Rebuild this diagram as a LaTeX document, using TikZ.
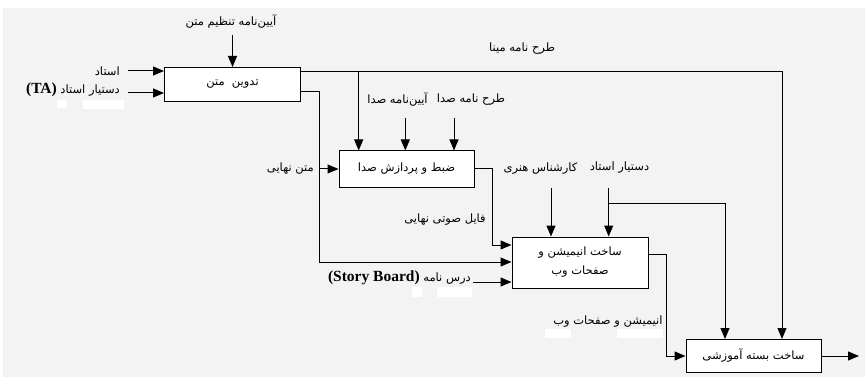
\documentclass[tikz,border=0pt]{standalone}
\usepackage{fontspec}
\usetikzlibrary{arrows.meta}
\TeXXeTstate=1
\newfontfamily\fa[Script=Arabic]{DejaVu Sans}
\newfontfamily\la{Liberation Serif}
\newcommand\pers[1]{{\fa\beginR#1\endR}}
\definecolor{bggray}{HTML}{F3F3F3}
\tikzset{
  procbox/.style={draw=black, line width=1pt, fill=white, minimum width=#1, inner sep=0pt, font=\fontsize{11.5}{13}\selectfont\fa, align=center},
  lbl/.style={inner sep=0pt, font=\fontsize{11.5}{13}\selectfont},
  arr/.style={line width=1pt, -{Triangle[length=11pt,width=9pt]}},
  patch/.style={fill=white, draw=none}
}
\newcommand\lat[1]{\beginL{\la\bfseries\fontsize{15.5}{18}\selectfont#1}\endL}
\begin{document}
\begin{tikzpicture}[x=1pt,y=-1pt]
\useasboundingbox (0,0) rectangle (865,377);
\fill[white] (0,0) rectangle (865,377);
\fill[bggray] (3,8) rectangle (865,377);
% white patches
\fill[patch] (57,100) rectangle (67,108);
\fill[patch] (83,100) rectangle (124,109);
\fill[patch] (412,287) rectangle (422,297);
\fill[patch] (437,287) rectangle (472,297);
\fill[patch] (545,329) rectangle (571,338);
\fill[patch] (617,329) rectangle (663,338);

% boxes
\node[procbox=136pt, minimum height=34pt] (b1) at (232.5,84.5) {\beginR تدوین\ \ متن\endR};
\node[procbox=135pt, minimum height=36pt] (b2) at (406.5,169) {\beginR ضبط و پردازش صدا\endR};
\node[procbox=136pt, minimum height=51pt] (b3) at (580,262.5) {\beginR ساخت انیمیشن و\endR\\[6pt]\beginR صفحات وب\endR};
\node[procbox=135pt, minimum height=33pt] (b4) at (753.5,356) {\beginR ساخت بسته آموزشی\endR};

% labels
\node[lbl] (lT) at (231,22) {\pers{آیین‌نامه تنظیم متن}};
\node[lbl, anchor=east] (lO) at (120,71) {\pers{استاد}};
\node[lbl, anchor=east] (lTA) at (120,90) {\pers{دستیار استاد \lat{(TA)}}};
\node[lbl] (lM) at (522,49) {\pers{طرح نامه مینا}};
\node[lbl] (lAS) at (397.5,100) {\pers{آیین‌نامه صدا}};
\node[lbl] (lTS) at (471,100) {\pers{طرح نامه صدا}};
\node[lbl, anchor=east] (lMN) at (314,169) {\pers{متن نهایی}};
\node[lbl] (lK) at (540.5,169) {\pers{کارشناس هنری}};
\node[lbl] (lD) at (619.5,168) {\pers{دستیار استاد}};
\node[lbl] (lF) at (445,220) {\pers{فایل صوتی نهایی}};
\node[lbl, anchor=east] (lS) at (471,278) {\pers{درس نامه \lat{(Story Board)}}};
\node[lbl] (lA) at (608,321.5) {\pers{انیمیشن و صفحات وب}};

% free ends and junctions
\coordinate (sT) at (232.5,35);
\coordinate (sO) at (128,71);
\coordinate (sTA) at (128,93);
\coordinate (j1) at (358.7,72);
\coordinate (c1) at (782,72);
\coordinate (j2) at (319.5,92);
\coordinate (j3) at (319.5,262);
\coordinate (sAS) at (405.3,118);
\coordinate (sTS) at (454,118);
\coordinate (k1) at (492,169);
\coordinate (k2) at (492,245);
\coordinate (sK) at (551,188);
\coordinate (sD) at (608.7,188);
\coordinate (d1) at (608.7,203);
\coordinate (d2) at (725,203);
\coordinate (m1) at (666,254);
\coordinate (m2) at (666,356);
\coordinate (sS) at (473,282);
\coordinate (eOut) at (859,356);

% connectors
\draw[arr] (sT) -- (b1.north);
\draw[arr] (sO) -- (b1.west |- sO);
\draw[arr] (sTA) -- (b1.west |- sTA);
\draw[arr] (b1.east |- j1) -- (c1) -- (b4.north -| c1);
\draw[arr] (j1) -- (b2.north -| j1);
\draw[arr] (b1.east |- j2) -- (j2) -- (j3) -- (b3.west |- j3);
\draw[arr] (j2 |- b2.west) -- (b2.west);
\draw[arr] (sAS) -- (b2.north -| sAS);
\draw[arr] (sTS) -- (b2.north -| sTS);
\draw[arr] (b2.east |- k1) -- (k1) -- (k2) -- (b3.west |- k2);
\draw[arr] (sK) -- (b3.north -| sK);
\draw[arr] (sD) -- (b3.north -| sD);
\draw[arr] (d1) -- (d2) -- (b4.north -| d2);
\draw[arr] (sS) -- (b3.west |- sS);
\draw[arr] (b3.east |- m1) -- (m1) -- (m2) -- (b4.west |- m2);
\draw[arr] (b4.east) -- (eOut);
\end{tikzpicture}
\end{document}
